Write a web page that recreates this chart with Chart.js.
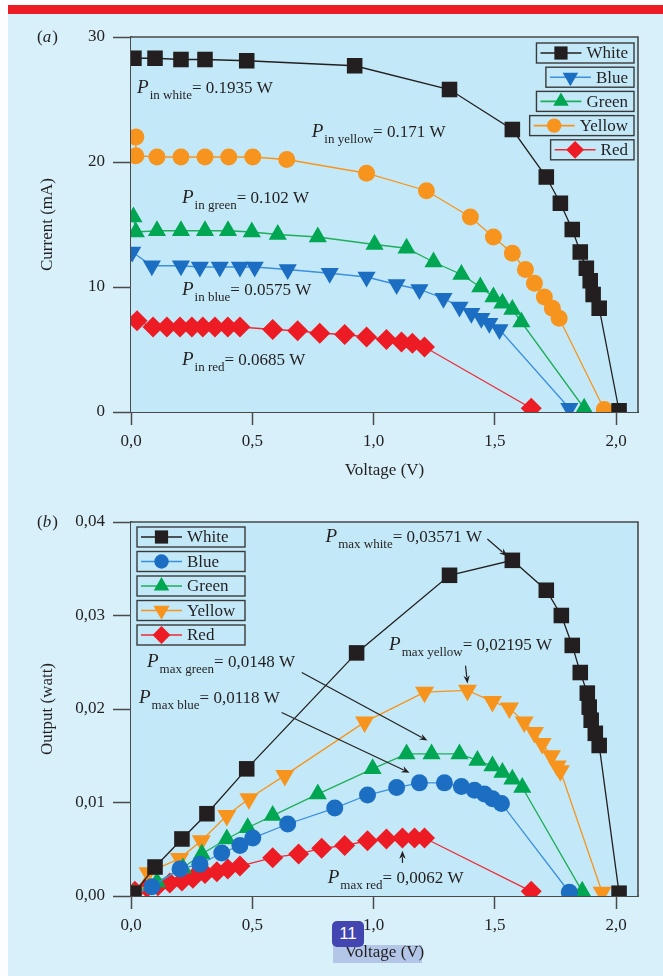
<!DOCTYPE html>
<html>
<head>
<meta charset="utf-8">
<script src="https://cdn.jsdelivr.net/npm/chart.js@4.4.1/dist/chart.umd.min.js"></script>
<style>
html, body { margin: 0; padding: 0; }
body { width: 663px; height: 976px; background: #fbfdfe; position: relative; overflow: hidden; }
#page { position: absolute; left: 8px; top: 14px; right: 0; bottom: 0; background: #d7f0fa; }
#bar { position: absolute; left: 8px; top: 5px; right: 0; height: 9px; background: #ed1c24; }
#hl { position: absolute; left: 333px; top: 945px; width: 89px; height: 18px; background: #b3c6e8; }
.box { position: absolute; left: 0; width: 663px; }
#boxA { top: 0; height: 490px; }
#boxB { top: 490px; height: 486px; }
#badge { position: absolute; left: 332px; top: 921px; width: 32px; height: 26px; border-radius: 5px;
  background: #4346b0; color: #fff; font: 17px "Liberation Sans", sans-serif; text-align: center;
  line-height: 26px; z-index: 5; }
</style>
</head>
<body>
<div id="page"></div>
<div id="bar"></div>
<div id="hl"></div>
<div class="box" id="boxA"><canvas id="chartA"></canvas></div>
<div class="box" id="boxB"><canvas id="chartB"></canvas></div>
<div id="badge">11</div>
<script>
// axis ticks
const xTickValues = [0, 0.5, 1.0, 1.5, 2.0];
const xTickLabels = ['0,0', '0,5', '1,0', '1,5', '2,0'];
const currentTickValues = [0, 10, 20, 30];
const currentTickLabels = ['0', '10', '20', '30'];
const powerTickValues = [0, 0.01, 0.02, 0.03, 0.04];
const powerTickLabels = ['0,00', '0,01', '0,02', '0,03', '0,04'];
const seriesNames = ['White', 'Blue', 'Green', 'Yellow', 'Red'];

// (a) current (mA) vs voltage (V)
const whiteVoltA = [0.012, 0.099, 0.206, 0.305, 0.477, 0.922, 1.313, 1.572, 1.712, 1.77, 1.819, 1.852, 1.877, 1.893, 1.905, 1.93, 2.012];
const whiteCurrent = [28.3, 28.3, 28.2, 28.2, 28.1, 27.7, 25.8, 22.6, 18.8, 16.7, 14.6, 12.8, 11.5, 10.5, 9.4, 8.3, 0.1];
const blueVoltA = [0.005, 0.086, 0.206, 0.284, 0.366, 0.449, 0.51, 0.646, 0.819, 0.971, 1.095, 1.189, 1.288, 1.354, 1.403, 1.444, 1.477, 1.519, 1.807];
const blueCurrent = [12.8, 11.7, 11.7, 11.6, 11.6, 11.6, 11.6, 11.4, 11.1, 10.8, 10.2, 9.8, 9.1, 8.4, 7.9, 7.5, 7.1, 6.6, 0.3];
const greenVoltA = [0.01, 0.02, 0.107, 0.206, 0.305, 0.40, 0.498, 0.605, 0.77, 1.004, 1.136, 1.247, 1.362, 1.44, 1.494, 1.531, 1.572, 1.609, 1.868];
const greenCurrent = [15.6, 14.4, 14.5, 14.5, 14.5, 14.5, 14.4, 14.2, 14.0, 13.4, 13.1, 12.0, 11.0, 10.0, 9.2, 8.7, 8.2, 7.2, 0.3];
const yellowVoltA = [0.02, 0.02, 0.107, 0.206, 0.305, 0.403, 0.502, 0.642, 0.971, 1.218, 1.399, 1.494, 1.572, 1.626, 1.663, 1.704, 1.737, 1.765, 1.951];
const yellowCurrent = [22.0, 20.5, 20.4, 20.4, 20.4, 20.4, 20.4, 20.2, 19.1, 17.7, 15.6, 14.0, 12.7, 11.4, 10.3, 9.2, 8.3, 7.5, 0.2];
const redVoltA = [0.025, 0.091, 0.148, 0.202, 0.251, 0.296, 0.346, 0.399, 0.449, 0.584, 0.687, 0.778, 0.881, 0.971, 1.053, 1.115, 1.16, 1.21, 1.65];
const redCurrent = [7.3, 6.8, 6.8, 6.8, 6.8, 6.8, 6.8, 6.8, 6.8, 6.6, 6.5, 6.3, 6.2, 6.0, 5.8, 5.6, 5.5, 5.2, 0.3];

// (b) output power (W) vs voltage (V)
const whiteVoltB = [0.012, 0.099, 0.21, 0.313, 0.477, 0.93, 1.313, 1.572, 1.712, 1.774, 1.819, 1.852, 1.881, 1.889, 1.897, 1.914, 1.93, 2.012];
const whitePower = [0.0003, 0.0031, 0.0061, 0.0088, 0.0136, 0.0260, 0.0343, 0.0359, 0.0327, 0.0300, 0.0268, 0.0239, 0.0217, 0.0202, 0.0188, 0.0174, 0.0161, 0.0003];
const blueVoltB = [0.005, 0.086, 0.202, 0.284, 0.374, 0.449, 0.502, 0.646, 0.84, 0.975, 1.095, 1.189, 1.292, 1.362, 1.416, 1.457, 1.49, 1.527, 1.807];
const bluePower = [0.0001, 0.0010, 0.0029, 0.0034, 0.0046, 0.0054, 0.0062, 0.0077, 0.0094, 0.0108, 0.0116, 0.0121, 0.0121, 0.0117, 0.0113, 0.0109, 0.0104, 0.0099, 0.0004];
const greenVoltB = [0.01, 0.107, 0.214, 0.292, 0.395, 0.481, 0.584, 0.77, 0.996, 1.136, 1.239, 1.354, 1.428, 1.49, 1.531, 1.572, 1.613, 1.86];
const greenPower = [0.0002, 0.0015, 0.0030, 0.0045, 0.0061, 0.0073, 0.0086, 0.0109, 0.0136, 0.0152, 0.0152, 0.0152, 0.0145, 0.0139, 0.0132, 0.0125, 0.0116, 0.0005];
const yellowVoltB = [0.02, 0.07, 0.20, 0.29, 0.395, 0.486, 0.634, 0.963, 1.21, 1.387, 1.49, 1.56, 1.621, 1.663, 1.695, 1.733, 1.757, 1.77, 1.942];
const yellowPower = [0.0004, 0.0025, 0.0040, 0.0059, 0.0086, 0.0104, 0.0129, 0.0186, 0.0218, 0.0220, 0.0208, 0.0201, 0.0186, 0.0175, 0.0163, 0.0150, 0.0139, 0.0134, 0.0004];
const redVoltB = [0.016, 0.066, 0.111, 0.16, 0.21, 0.255, 0.305, 0.354, 0.399, 0.449, 0.584, 0.691, 0.786, 0.881, 0.975, 1.053, 1.119, 1.169, 1.21, 1.65];
const redPower = [0.0005, 0.0009, 0.0011, 0.0014, 0.0016, 0.0019, 0.0024, 0.0026, 0.0029, 0.0032, 0.0041, 0.0045, 0.0051, 0.0054, 0.0059, 0.0061, 0.0062, 0.0062, 0.0062, 0.0005];

const SERIF = '"Liberation Serif", "DejaVu Serif", serif';
const INK = '#231f20';
const AXIS = '#4a4a4a';
const PLOT_BG = '#c3e9f8';

const markerColor = { White: '#231f20', Blue: '#1b6ec2', Green: '#00a651', Yellow: '#f7941d', Red: '#ed1c24' };
const lineColor = { White: '#231f20', Blue: '#3b8fe0', Green: '#1fae5a', Yellow: '#f7941d', Red: '#ed2a35' };

const markersA = {
  White: { pointStyle: 'rect', radius: 11, rotation: 0 },
  Blue: { pointStyle: 'triangle', radius: 10.5, rotation: 180 },
  Green: { pointStyle: 'triangle', radius: 10.5, rotation: 0 },
  Yellow: { pointStyle: 'circle', radius: 8.5, rotation: 0 },
  Red: { pointStyle: 'rectRot', radius: 10.5, rotation: 0 }
};
const markersB = {
  White: { pointStyle: 'rect', radius: 11, rotation: 0 },
  Blue: { pointStyle: 'circle', radius: 8.5, rotation: 0 },
  Green: { pointStyle: 'triangle', radius: 10.5, rotation: 0 },
  Yellow: { pointStyle: 'triangle', radius: 11, rotation: 180 },
  Red: { pointStyle: 'rectRot', radius: 10.5, rotation: 0 }
};

function pts(xs, ys) {
  return xs.map((x, i) => ({ x: x, y: ys[i] }));
}

function makeDataset(name, data, markers) {
  const m = markers[name];
  return {
    label: name,
    data: data,
    borderColor: lineColor[name],
    backgroundColor: markerColor[name],
    borderWidth: 1.3,
    pointStyle: m.pointStyle,
    pointRadius: m.radius,
    pointRotation: m.rotation,
    pointBorderWidth: 0,
    pointBackgroundColor: markerColor[name],
    tension: 0,
    clip: 0
  };
}

function drawPLabel(ctx, x, y, sub, rest) {
  ctx.fillStyle = INK;
  ctx.textAlign = 'left';
  ctx.textBaseline = 'alphabetic';
  ctx.font = 'italic 19px ' + SERIF;
  ctx.fillText('P', x, y);
  let cx = x + ctx.measureText('P').width + 1;
  ctx.font = '13px ' + SERIF;
  ctx.fillText(sub, cx, y + 6);
  cx += ctx.measureText(sub).width;
  ctx.font = '17px ' + SERIF;
  ctx.fillText(rest, cx, y);
}

function drawArrow(ctx, x1, y1, x2, y2) {
  const a = Math.atan2(y2 - y1, x2 - x1);
  const len = 8, hw = 3.2;
  ctx.strokeStyle = INK;
  ctx.fillStyle = INK;
  ctx.lineWidth = 1.2;
  ctx.beginPath();
  ctx.moveTo(x1, y1);
  ctx.lineTo(x2 - Math.cos(a) * len * 0.8, y2 - Math.sin(a) * len * 0.8);
  ctx.stroke();
  ctx.beginPath();
  ctx.moveTo(x2, y2);
  ctx.lineTo(x2 - Math.cos(a) * len - Math.sin(a) * hw, y2 - Math.sin(a) * len + Math.cos(a) * hw);
  ctx.lineTo(x2 - Math.cos(a) * len * 0.7, y2 - Math.sin(a) * len * 0.7);
  ctx.lineTo(x2 - Math.cos(a) * len + Math.sin(a) * hw, y2 - Math.sin(a) * len - Math.cos(a) * hw);
  ctx.closePath();
  ctx.fill();
}

const LEGEND_FONT = '17px ' + SERIF;

function drawLegendItem(ctx, left, top, width, name, markers) {
  const h = 20;
  ctx.fillStyle = PLOT_BG;
  ctx.fillRect(left, top, width, h);
  ctx.strokeStyle = '#3a3a3a';
  ctx.lineWidth = 1.4;
  ctx.strokeRect(left, top, width, h);
  const cy = top + h / 2;
  ctx.strokeStyle = lineColor[name];
  ctx.lineWidth = 1.6;
  ctx.beginPath();
  ctx.moveTo(left + 4, cy);
  ctx.lineTo(left + 45, cy);
  ctx.stroke();
  const m = markers[name];
  ctx.fillStyle = markerColor[name];
  Chart.helpers.drawPoint(ctx, {
    pointStyle: m.pointStyle, rotation: m.rotation,
    radius: m.radius * 0.85, borderWidth: 0
  }, left + 24.5, cy);
  ctx.fillStyle = INK;
  ctx.font = LEGEND_FONT;
  ctx.textAlign = 'left';
  ctx.textBaseline = 'middle';
  ctx.fillText(name, left + 50, cy + 1);
}

function drawPanelLetter(ctx, x, y, letter) {
  ctx.fillStyle = INK;
  ctx.textBaseline = 'middle';
  ctx.textAlign = 'left';
  ctx.font = '17px ' + SERIF;
  ctx.fillText('(', x, y);
  let cx = x + ctx.measureText('(').width;
  ctx.font = 'italic 17px ' + SERIF;
  ctx.fillText(letter, cx, y);
  cx += ctx.measureText(letter).width + 1;
  ctx.font = '17px ' + SERIF;
  ctx.fillText(')', cx, y);
}

const plotBackground = {
  id: 'plotBackground',
  beforeDatasetsDraw(chart) {
    const { ctx, chartArea: a } = chart;
    ctx.save();
    ctx.fillStyle = PLOT_BG;
    ctx.fillRect(a.left, a.top, a.right - a.left, a.bottom - a.top);
    ctx.restore();
  },
  afterDraw(chart) {
    const { ctx, chartArea: a } = chart;
    ctx.save();
    ctx.strokeStyle = AXIS;
    ctx.lineWidth = 1.6;
    ctx.beginPath();
    ctx.moveTo(a.left, a.top);
    ctx.lineTo(a.right, a.top);
    ctx.lineTo(a.right, a.bottom);
    ctx.stroke();
    ctx.restore();
  }
};

function axes(yMax, yTickValues, yTickLabels, yTitle, xHeight, titlePad, xMax) {
  const tickFont = { family: SERIF, size: 17 };
  return {
    x: {
      type: 'linear', min: 0, max: xMax,
      afterBuildTicks: s => { s.ticks = xTickValues.map(v => ({ value: v })); },
      afterFit: s => { s.height = xHeight; },
      ticks: { callback: (v, i) => xTickLabels[i], font: tickFont, color: INK, padding: 6, maxRotation: 0 },
      grid: { drawOnChartArea: false, tickLength: 13, tickColor: AXIS, tickWidth: 1.5 },
      border: { color: AXIS, width: 2 },
      title: { display: true, text: 'Voltage (V)', font: { family: SERIF, size: 17 }, color: INK, padding: { top: 0, bottom: titlePad } }
    },
    y: {
      type: 'linear', min: 0, max: yMax,
      afterBuildTicks: s => { s.ticks = yTickValues.map(v => ({ value: v })); },
      afterFit: s => { s.width = 131; },
      ticks: { callback: (v, i) => yTickLabels[i], font: tickFont, color: INK, padding: 8 },
      grid: { drawOnChartArea: false, tickLength: 18, tickColor: AXIS, tickWidth: 1.5 },
      border: { color: AXIS, width: 2 },
      title: { display: true, text: yTitle, font: { family: SERIF, size: 17 }, color: INK, padding: { top: 37, bottom: 0 } }
    }
  };
}

// ---------- (a) ----------
const annotationsA = [
  { v: 0.025, y: 25.5, sub: 'in white', text: '= 0.1935 W' },
  { v: 0.745, y: 22.0, sub: 'in yellow', text: '= 0.171 W' },
  { v: 0.21, y: 16.7, sub: 'in green', text: '= 0.102 W' },
  { v: 0.21, y: 9.36, sub: 'in blue', text: '= 0.0575 W' },
  { v: 0.21, y: 3.76, sub: 'in red', text: '= 0.0685 W' }
];

const overlayA = {
  id: 'overlayA',
  afterDraw(chart) {
    const { ctx, chartArea: a, scales } = chart;
    ctx.save();
    annotationsA.forEach(n => {
      drawPLabel(ctx, scales.x.getPixelForValue(n.v), scales.y.getPixelForValue(n.y), n.sub, n.text);
    });
    // legend boxes, right aligned
    seriesNames.forEach((name, i) => {
      ctx.font = LEGEND_FONT;
      const w = 50 + ctx.measureText(name).width + 6;
      drawLegendItem(ctx, a.right - 4 - w, a.top + 6 + i * 24.2, w, name, markersA);
    });
    drawPanelLetter(ctx, 37, a.top + 1, 'a');
    ctx.restore();
  }
};

new Chart(document.getElementById('chartA'), {
  type: 'line',
  data: {
    datasets: [
      makeDataset('White', pts(whiteVoltA, whiteCurrent), markersA),
      makeDataset('Blue', pts(blueVoltA, blueCurrent), markersA),
      makeDataset('Green', pts(greenVoltA, greenCurrent), markersA),
      makeDataset('Yellow', pts(yellowVoltA, yellowCurrent), markersA),
      makeDataset('Red', pts(redVoltA, redCurrent), markersA)
    ]
  },
  options: {
    responsive: true,
    maintainAspectRatio: false,
    animation: false,
    devicePixelRatio: 1,
    layout: { padding: { top: 37, right: 25, left: 0, bottom: 0 } },
    plugins: { legend: { display: false }, tooltip: { enabled: false } },
    scales: axes(30, currentTickValues, currentTickLabels, 'Current (mA)', 78, 9, 2.09)
  },
  plugins: [plotBackground, overlayA]
});

// ---------- (b) ----------
const annotationsB = [
  { v: 0.802, y: 0.0379, sub: 'max white', text: '= 0,03571 W' },
  { v: 1.064, y: 0.0263, sub: 'max yellow', text: '= 0,02195 W' },
  { v: 0.066, y: 0.0245, sub: 'max green', text: '= 0,0148 W' },
  { v: 0.033, y: 0.0206, sub: 'max blue', text: '= 0,0118 W' },
  { v: 0.811, y: 0.0014, sub: 'max red', text: '= 0,0062 W' }
];
const arrowsB = [
  [1.469, 0.03818, 1.551, 0.03635],
  [1.379, 0.02462, 1.387, 0.02273],
  [0.704, 0.02391, 1.222, 0.01662],
  [0.621, 0.01962, 1.148, 0.01319],
  [1.119, 0.00354, 1.119, 0.00483]
];

const overlayB = {
  id: 'overlayB',
  afterDraw(chart) {
    const { ctx, chartArea: a, scales } = chart;
    const px = v => scales.x.getPixelForValue(v);
    const py = v => scales.y.getPixelForValue(v);
    ctx.save();
    annotationsB.forEach(n => drawPLabel(ctx, px(n.v), py(n.y), n.sub, n.text));
    arrowsB.forEach(r => drawArrow(ctx, px(r[0]), py(r[1]), px(r[2]), py(r[3])));
    seriesNames.forEach((name, i) => {
      drawLegendItem(ctx, a.left + 6, a.top + 5 + i * 24.5, 108, name, markersB);
    });
    drawPanelLetter(ctx, 37, a.top + 1, 'b');
    ctx.restore();
  }
};

new Chart(document.getElementById('chartB'), {
  type: 'line',
  data: {
    datasets: [
      makeDataset('White', pts(whiteVoltB, whitePower), markersB),
      makeDataset('Blue', pts(blueVoltB, bluePower), markersB),
      makeDataset('Green', pts(greenVoltB, greenPower), markersB),
      makeDataset('Yellow', pts(yellowVoltB, yellowPower), markersB),
      makeDataset('Red', pts(redVoltB, redPower), markersB)
    ]
  },
  options: {
    responsive: true,
    maintainAspectRatio: false,
    animation: false,
    devicePixelRatio: 1,
    layout: { padding: { top: 32, right: 25, left: 0, bottom: 0 } },
    plugins: { legend: { display: false }, tooltip: { enabled: false } },
    scales: axes(0.04, powerTickValues, powerTickLabels, 'Output (watt)', 80, 13, 2.09)
  },
  plugins: [plotBackground, overlayB]
});
</script>
</body>
</html>
